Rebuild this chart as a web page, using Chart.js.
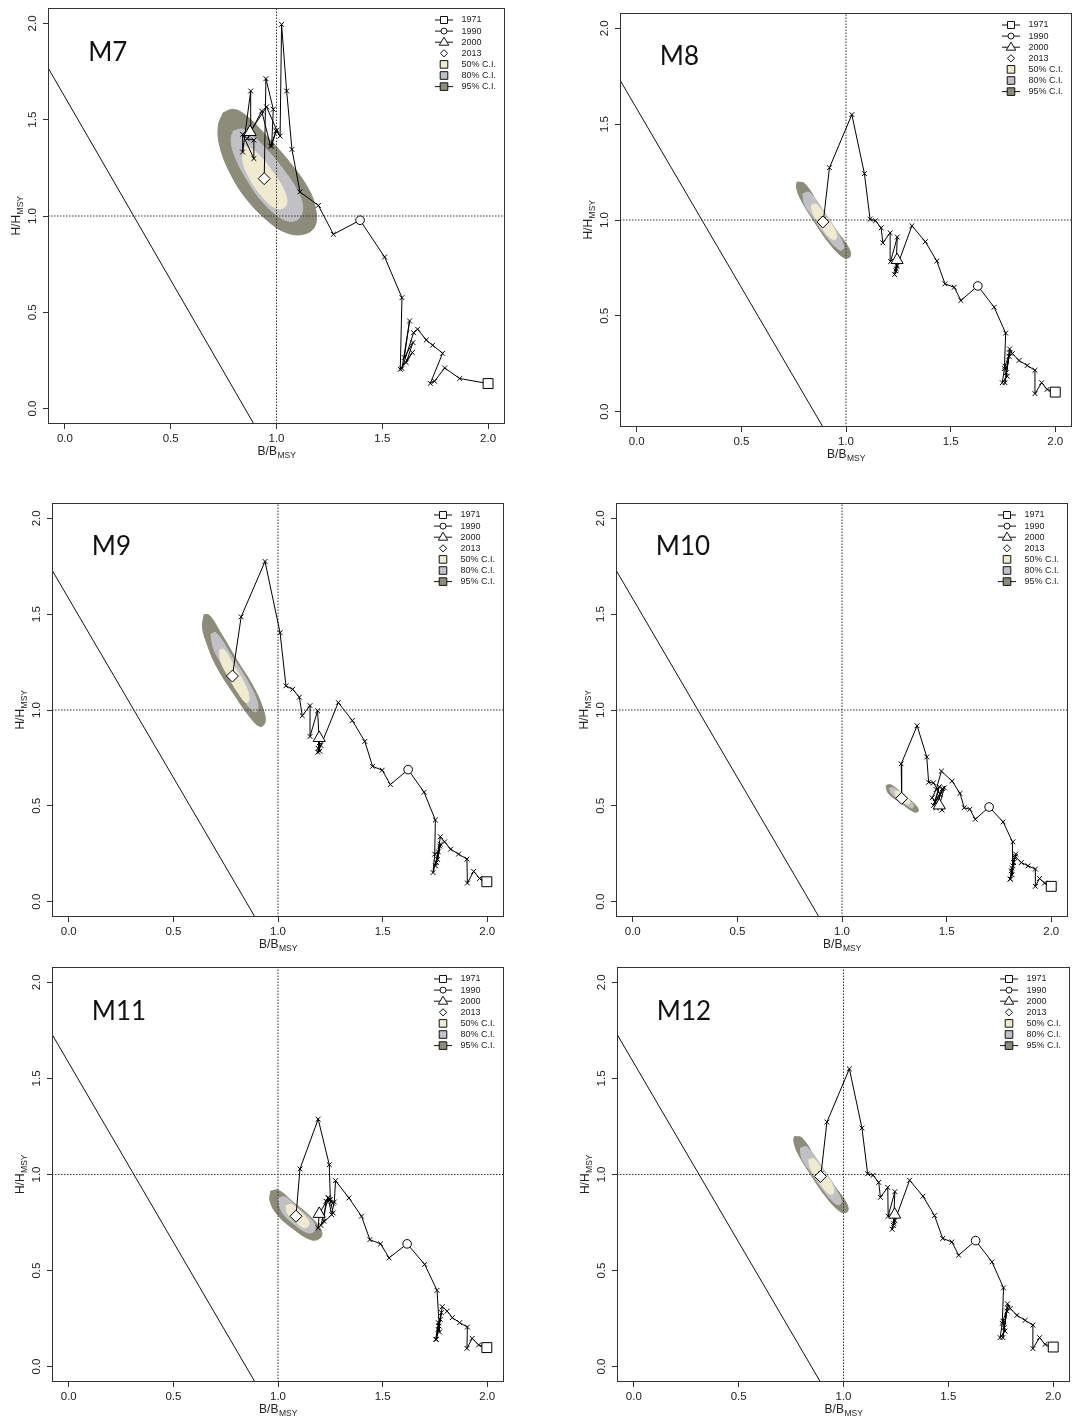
<!DOCTYPE html>
<html>
<head>
<meta charset="utf-8">
<script src="https://cdn.jsdelivr.net/npm/chart.js@4.4.1/dist/chart.umd.min.js"></script>
<style>
  html, body { margin: 0; padding: 0; background: #fff; }
  body { position: relative; width: 1073px; height: 1423px; overflow: hidden; }
  canvas { position: absolute; }
</style>
</head>
<body>
<script>
// Kobe-style trajectories, 1971-2013, six model runs
const years = [1971, 1972, 1973, 1974, 1975, 1976, 1977, 1978, 1979, 1980,
  1981, 1982, 1983, 1984, 1985, 1986, 1987, 1988, 1989, 1990,
  1991, 1992, 1993, 1994, 1995, 1996, 1997, 1998, 1999, 2000,
  2001, 2002, 2003, 2004, 2005, 2006, 2007, 2008, 2009, 2010,
  2011, 2012, 2013];
const xTicks = [0, 0.5, 1, 1.5, 2];
const yTicks = [0, 0.5, 1, 1.5, 2];
const legendLabels = ['1971', '1990', '2000', '2013', '50% C.I.', '80% C.I.', '95% C.I.'];
const panelNames = ['M7', 'M8', 'M9', 'M10', 'M11', 'M12'];

// B/Bmsy and H/Hmsy per year
const m7B = [2.000, 1.866, 1.795, 1.747, 1.727, 1.785, 1.738, 1.708, 1.667, 1.648, 1.593, 1.629, 1.604, 1.645, 1.613, 1.642, 1.585, 1.593, 1.511, 1.395, 1.269, 1.198, 1.111, 1.073, 1.048, 1.024, 1.017, 1.001, 0.953, 0.875, 0.878, 0.840, 0.840, 0.893, 0.893, 0.862, 0.930, 0.972, 0.998, 0.977, 0.985, 0.950, 0.942];
const m7H = [0.130, 0.156, 0.211, 0.142, 0.131, 0.287, 0.329, 0.356, 0.412, 0.394, 0.208, 0.455, 0.265, 0.343, 0.239, 0.291, 0.204, 0.576, 0.787, 0.978, 0.905, 1.055, 1.125, 1.346, 1.649, 1.995, 1.415, 1.446, 1.567, 1.436, 1.649, 1.332, 1.424, 1.298, 1.394, 1.401, 1.545, 1.363, 1.441, 1.363, 1.554, 1.713, 1.194];

const m8B = [2.000, 1.961, 1.935, 1.903, 1.903, 1.866, 1.827, 1.795, 1.782, 1.760, 1.779, 1.766, 1.782, 1.760, 1.770, 1.747, 1.757, 1.763, 1.708, 1.630, 1.549, 1.517, 1.473, 1.434, 1.379, 1.315, 1.245, 1.232, 1.240, 1.244, 1.238, 1.245, 1.213, 1.211, 1.176, 1.168, 1.141, 1.115, 1.088, 1.028, 0.921, 0.893, 0.890];
const m8H = [0.102, 0.116, 0.151, 0.094, 0.216, 0.241, 0.267, 0.303, 0.327, 0.151, 0.289, 0.203, 0.306, 0.237, 0.185, 0.151, 0.225, 0.410, 0.545, 0.656, 0.580, 0.649, 0.667, 0.786, 0.887, 0.970, 0.760, 0.715, 0.745, 0.791, 0.735, 0.911, 0.783, 0.933, 0.881, 0.959, 0.996, 1.004, 1.242, 1.550, 1.273, 1.005, 0.990];

const m9B = [1.998, 1.963, 1.935, 1.905, 1.903, 1.863, 1.825, 1.796, 1.776, 1.757, 1.776, 1.763, 1.773, 1.753, 1.766, 1.741, 1.749, 1.752, 1.698, 1.622, 1.537, 1.498, 1.452, 1.415, 1.355, 1.288, 1.205, 1.190, 1.198, 1.197, 1.192, 1.200, 1.189, 1.153, 1.153, 1.116, 1.102, 1.070, 1.038, 1.010, 0.938, 0.824, 0.782];
const m9H = [0.104, 0.121, 0.158, 0.097, 0.222, 0.248, 0.274, 0.312, 0.339, 0.204, 0.300, 0.220, 0.290, 0.187, 0.260, 0.152, 0.248, 0.426, 0.571, 0.689, 0.611, 0.686, 0.706, 0.836, 0.945, 1.039, 0.815, 0.780, 0.830, 0.854, 0.800, 0.785, 0.996, 0.862, 1.023, 0.970, 1.067, 1.108, 1.126, 1.403, 1.775, 1.486, 1.177];

const m10B = [2.000, 1.968, 1.944, 1.924, 1.924, 1.889, 1.857, 1.828, 1.830, 1.805, 1.820, 1.809, 1.825, 1.812, 1.803, 1.817, 1.813, 1.817, 1.770, 1.703, 1.637, 1.611, 1.584, 1.564, 1.526, 1.475, 1.450, 1.431, 1.478, 1.465, 1.489, 1.437, 1.465, 1.445, 1.480, 1.450, 1.470, 1.437, 1.414, 1.405, 1.359, 1.283, 1.285];
const m10H = [0.080, 0.097, 0.121, 0.080, 0.170, 0.187, 0.204, 0.236, 0.248, 0.118, 0.204, 0.161, 0.230, 0.175, 0.118, 0.187, 0.140, 0.312, 0.416, 0.494, 0.430, 0.482, 0.490, 0.565, 0.629, 0.681, 0.585, 0.542, 0.478, 0.502, 0.594, 0.502, 0.600, 0.520, 0.590, 0.490, 0.560, 0.620, 0.623, 0.755, 0.918, 0.719, 0.539];

const m11B = [1.998, 1.959, 1.928, 1.903, 1.905, 1.868, 1.833, 1.808, 1.785, 1.757, 1.776, 1.765, 1.781, 1.770, 1.754, 1.766, 1.772, 1.760, 1.701, 1.617, 1.531, 1.490, 1.439, 1.399, 1.339, 1.275, 1.269, 1.256, 1.240, 1.197, 1.192, 1.219, 1.229, 1.248, 1.264, 1.205, 1.240, 1.262, 1.250, 1.245, 1.192, 1.105, 1.086];
const m11H = [0.099, 0.113, 0.147, 0.095, 0.206, 0.229, 0.255, 0.289, 0.312, 0.142, 0.246, 0.194, 0.281, 0.211, 0.142, 0.229, 0.180, 0.397, 0.532, 0.639, 0.566, 0.639, 0.661, 0.783, 0.878, 0.968, 0.857, 0.791, 0.878, 0.795, 0.722, 0.757, 0.861, 0.869, 0.800, 0.735, 0.880, 0.850, 0.870, 1.051, 1.288, 1.029, 0.783];

// M12 reads the same as M8 in the figure
const m12B = [2.000, 1.961, 1.935, 1.903, 1.903, 1.866, 1.827, 1.795, 1.782, 1.760, 1.779, 1.766, 1.782, 1.760, 1.770, 1.747, 1.757, 1.763, 1.708, 1.630, 1.549, 1.517, 1.473, 1.434, 1.379, 1.315, 1.245, 1.232, 1.240, 1.244, 1.238, 1.245, 1.213, 1.211, 1.176, 1.168, 1.141, 1.115, 1.088, 1.028, 0.921, 0.893, 0.890];
const m12H = [0.102, 0.116, 0.151, 0.094, 0.216, 0.241, 0.267, 0.303, 0.327, 0.151, 0.289, 0.203, 0.306, 0.237, 0.185, 0.151, 0.225, 0.410, 0.545, 0.656, 0.580, 0.649, 0.667, 0.786, 0.887, 0.970, 0.760, 0.715, 0.745, 0.791, 0.735, 0.911, 0.783, 0.933, 0.881, 0.959, 0.996, 1.004, 1.242, 1.550, 1.273, 1.005, 0.990];

// confidence region outlines for 2013, [B, H] vertices
const m7Ci95 = [[0.748, 1.536], [0.796, 1.554], [0.859, 1.519], [0.953, 1.415], [1.064, 1.277], [1.143, 1.156], [1.182, 1.052], [1.182, 0.948], [1.127, 0.905], [1.048, 0.913], [0.969, 0.965], [0.859, 1.087], [0.780, 1.225], [0.732, 1.363], [0.725, 1.467]];
const m7Ci80 = [[0.796, 1.441], [0.843, 1.450], [0.922, 1.381], [1.032, 1.242], [1.103, 1.121], [1.124, 1.035], [1.096, 0.979], [1.032, 0.983], [0.938, 1.069], [0.859, 1.190], [0.803, 1.311], [0.785, 1.398]];
const m7Ci50 = [[0.851, 1.363], [0.898, 1.337], [0.985, 1.225], [1.040, 1.121], [1.045, 1.055], [1.001, 1.038], [0.930, 1.104], [0.867, 1.208], [0.840, 1.294]];

const m8Ci95 = [[0.766, 1.198], [0.802, 1.190], [0.866, 1.087], [0.953, 0.947], [1.014, 0.852], [1.020, 0.809], [0.988, 0.805], [0.921, 0.878], [0.834, 1.016], [0.782, 1.112], [0.763, 1.172]];
const m8Ci80 = [[0.794, 1.138], [0.826, 1.143], [0.890, 1.051], [0.961, 0.930], [0.990, 0.857], [0.969, 0.843], [0.905, 0.916], [0.842, 1.016], [0.802, 1.082]];
const m8Ci50 = [[0.834, 1.077], [0.858, 1.082], [0.905, 1.016], [0.950, 0.939], [0.950, 0.899], [0.921, 0.909], [0.874, 0.978], [0.842, 1.034]];

const m9Ci95 = [[0.647, 1.498], [0.672, 1.494], [0.723, 1.408], [0.803, 1.261], [0.882, 1.122], [0.930, 1.001], [0.938, 0.935], [0.914, 0.914], [0.866, 0.963], [0.787, 1.087], [0.707, 1.226], [0.660, 1.347], [0.639, 1.434]];
const m9Ci80 = [[0.679, 1.396], [0.704, 1.403], [0.771, 1.295], [0.851, 1.157], [0.901, 1.044], [0.898, 0.992], [0.870, 1.004], [0.803, 1.113], [0.731, 1.240], [0.692, 1.321]];
const m9Ci50 = [[0.720, 1.313], [0.742, 1.316], [0.787, 1.235], [0.843, 1.131], [0.863, 1.056], [0.847, 1.039], [0.811, 1.087], [0.763, 1.174], [0.727, 1.252]];

const m10Ci95 = [[1.210, 0.606], [1.233, 0.610], [1.293, 0.559], [1.353, 0.502], [1.365, 0.473], [1.344, 0.468], [1.285, 0.513], [1.222, 0.565]];
const m10Ci80 = [[1.226, 0.592], [1.245, 0.596], [1.293, 0.554], [1.341, 0.506], [1.334, 0.488], [1.285, 0.525], [1.236, 0.565]];
const m10Ci50 = [[1.253, 0.577], [1.280, 0.571], [1.317, 0.537], [1.322, 0.513], [1.301, 0.513], [1.261, 0.547]];

const m11Ci95 = [[0.965, 0.913], [1.002, 0.918], [1.073, 0.855], [1.161, 0.774], [1.208, 0.705], [1.200, 0.668], [1.156, 0.661], [1.073, 0.717], [0.997, 0.791], [0.962, 0.861]];
const m11Ci80 = [[1.002, 0.878], [1.033, 0.883], [1.105, 0.817], [1.169, 0.752], [1.176, 0.710], [1.145, 0.696], [1.073, 0.745], [1.017, 0.809]];
const m11Ci50 = [[1.038, 0.838], [1.067, 0.843], [1.121, 0.791], [1.149, 0.745], [1.129, 0.722], [1.081, 0.757], [1.045, 0.800]];

const m12Ci95 = m8Ci95, m12Ci80 = m8Ci80, m12Ci50 = m8Ci50;

// straight limit line, two end points [B, H]
const m7Limit = [[-0.08, 1.77], [0.893, -0.08]];
const otherLimit = [[-0.08, 1.73], [0.89, -0.08]];

const panels = [
  { b: m7B, h: m7H, ci: [m7Ci50, m7Ci80, m7Ci95], limit: m7Limit },
  { b: m8B, h: m8H, ci: [m8Ci50, m8Ci80, m8Ci95], limit: otherLimit },
  { b: m9B, h: m9H, ci: [m9Ci50, m9Ci80, m9Ci95], limit: otherLimit },
  { b: m10B, h: m10H, ci: [m10Ci50, m10Ci80, m10Ci95], limit: otherLimit },
  { b: m11B, h: m11H, ci: [m11Ci50, m11Ci80, m11Ci95], limit: otherLimit },
  { b: m12B, h: m12H, ci: [m12Ci50, m12Ci80, m12Ci95], limit: otherLimit }
];

// plot frames on the page: left, top, right, bottom
const panelBoxes = [
  [48, 8, 505, 424], [620, 13, 1072, 427],
  [52, 503, 504, 917], [616, 503, 1068, 917],
  [52, 967, 504, 1382], [617, 967, 1070, 1382]
];

const ciColors = ['#f0ead0', '#c0c0c5', '#8d8b7a'];
const FONT = '"Liberation Sans", Arial, sans-serif';

function shape(ctx, kind, x, y, r) {
  ctx.beginPath();
  if (kind === 'rect') ctx.rect(x - r, y - r, 2 * r, 2 * r);
  else if (kind === 'circle') ctx.arc(x, y, r, 0, Math.PI * 2);
  else if (kind === 'triangle') {
    ctx.moveTo(x, y - r); ctx.lineTo(x + r * 0.95, y + r * 0.6); ctx.lineTo(x - r * 0.95, y + r * 0.6); ctx.closePath();
  } else if (kind === 'rectRot') {
    ctx.moveTo(x, y - r); ctx.lineTo(x + r, y); ctx.lineTo(x, y + r); ctx.lineTo(x - r, y); ctx.closePath();
  }
  ctx.fill(); ctx.stroke();
}

function subText(ctx, main, sub, cx, cy) {
  ctx.font = '12px ' + FONT;
  const w1 = ctx.measureText(main).width;
  ctx.font = '8.5px ' + FONT;
  const w2 = ctx.measureText(sub).width;
  const x0 = cx - (w1 + w2) / 2;
  ctx.textAlign = 'left';
  ctx.textBaseline = 'middle';
  ctx.font = '12px ' + FONT;
  ctx.fillText(main, x0, cy);
  ctx.font = '8.5px ' + FONT;
  ctx.fillText(sub, x0 + w1 + 0.5, cy + 3.5);
}

const legendStyle = [
  { kind: 'rect', r: 3.5, line: true, fill: '#fff' },
  { kind: 'circle', r: 3, line: true, fill: '#fff' },
  { kind: 'triangle', r: 5, line: true, fill: '#fff' },
  { kind: 'rectRot', r: 3.6, line: false, fill: '#fff' },
  { kind: 'rect', r: 3.8, line: false, fill: ciColors[0] },
  { kind: 'rect', r: 3.8, line: false, fill: ciColors[1] },
  { kind: 'rect', r: 3.8, line: true, fill: ciColors[2] }
];

const decor = {
  id: 'decor',
  afterDraw(chart, args, opts) {
    const { ctx, chartArea: a, scales: { x, y } } = chart;
    ctx.save();
    ctx.strokeStyle = '#333';
    ctx.lineWidth = 1;
    ctx.strokeRect(a.left + 0.5, a.top + 0.5, a.right - a.left - 1, a.bottom - a.top - 1);

    ctx.fillStyle = '#222';
    subText(ctx, 'B/B', 'MSY', (a.left + a.right) / 2, a.bottom + 28);
    ctx.save();
    ctx.translate(a.left - 31, (a.top + a.bottom) / 2);
    ctx.rotate(-Math.PI / 2);
    subText(ctx, 'H/H', 'MSY', 0, 0);
    ctx.restore();

    ctx.fillStyle = '#111';
    ctx.font = '26px Lato, "Open Sans", sans-serif';
    ctx.textAlign = 'left';
    ctx.textBaseline = 'middle';
    ctx.fillText(opts.name, x.getPixelForValue(0.11), y.getPixelForValue(1.85));

    const cx = a.right - 61, tx = a.right - 43.5, y0 = a.top + 12;
    ctx.font = '9px ' + FONT;
    ctx.lineWidth = 1;
    legendLabels.forEach((lab, i) => {
      const ly = y0 + i * 11.1;
      const st = legendStyle[i];
      ctx.strokeStyle = '#111';
      if (st.line) {
        ctx.beginPath(); ctx.moveTo(cx - 9, ly); ctx.lineTo(cx + 9, ly); ctx.stroke();
      }
      ctx.fillStyle = st.fill;
      shape(ctx, st.kind, cx, ly, st.r);
      ctx.fillStyle = '#222';
      ctx.fillText(lab, tx, ly);
    });
    ctx.restore();
  }
};

function marker(pt, style, r) {
  return {
    data: [pt], pointStyle: style, pointRadius: r, pointBackgroundColor: '#fff',
    pointBorderColor: '#000', pointBorderWidth: 1, order: 1
  };
}

panels.forEach((p, k) => {
  const [L, T, R, B] = panelBoxes[k];
  const padL = 52, padT = 14, padR = 10, padB = 56;
  const cv = document.createElement('canvas');
  cv.width = R - L + padL + padR;
  cv.height = B - T + padT + padB;
  cv.style.left = (L - padL) + 'px';
  cv.style.top = (T - padT) + 'px';
  document.body.appendChild(cv);

  const path = p.b.map((v, i) => ({ x: v, y: p.h[i] }));
  const at = yr => path[years.indexOf(yr)];
  const poly = arr => arr.concat([arr[0]]).map(([bx, hy]) => ({ x: bx, y: hy }));

  const datasets = [
    marker(at(1971), 'rect', 7),
    marker(at(1990), 'circle', 4.3),
    marker(at(2000), 'triangle', 7),
    marker(at(2013), 'rectRot', 6),
    {
      data: path, showLine: true, borderColor: '#000', borderWidth: 1, tension: 0,
      pointStyle: 'crossRot', pointRadius: 3.4, pointBorderColor: '#000', pointBorderWidth: 1, order: 2
    },
    {
      data: [{ x: 1, y: -0.08 }, { x: 1, y: 2.08 }], showLine: true, borderColor: '#333',
      borderWidth: 1, borderDash: [1.5, 1.5], pointRadius: 0, order: 3
    },
    {
      data: [{ x: -0.08, y: 1 }, { x: 2.08, y: 1 }], showLine: true, borderColor: '#333',
      borderWidth: 1, borderDash: [1.5, 1.5], pointRadius: 0, order: 3
    },
    {
      data: p.limit.map(([bx, hy]) => ({ x: bx, y: hy })), showLine: true, borderColor: '#111',
      borderWidth: 1, pointRadius: 0, order: 3
    }
  ];
  p.ci.forEach((c, j) => {
    datasets.push({
      data: poly(c), showLine: true, fill: 'shape', tension: 0.4,
      backgroundColor: ciColors[j], borderColor: ciColors[j], borderWidth: 1,
      pointRadius: 0, order: 4 + j
    });
  });

  new Chart(cv, {
    type: 'scatter',
    data: { datasets },
    options: {
      responsive: false,
      animation: false,
      devicePixelRatio: 1,
      events: [],
      layout: { padding: { top: padT, right: padR, left: 0, bottom: 0 } },
      scales: {
        x: {
          type: 'linear', min: -0.08, max: 2.08,
          afterBuildTicks: s => { s.ticks = xTicks.map(v => ({ value: v })); },
          afterFit: s => { s.height = padB; },
          grid: { drawOnChartArea: false, drawTicks: true, tickLength: 5, color: '#333' },
          border: { display: false },
          ticks: {
            padding: 3, color: '#222', maxRotation: 0, autoSkip: false,
            font: { family: FONT, size: 11.5 }, callback: v => v.toFixed(1)
          }
        },
        y: {
          type: 'linear', min: -0.08, max: 2.08,
          afterBuildTicks: s => { s.ticks = yTicks.map(v => ({ value: v })); },
          afterFit: s => { s.width = padL; },
          grid: { drawOnChartArea: false, drawTicks: true, tickLength: 5, color: '#333' },
          border: { display: false },
          ticks: {
            padding: 2, color: '#222', minRotation: 90, maxRotation: 90, crossAlign: 'center',
            autoSkip: false, font: { family: FONT, size: 11.5 }, callback: v => v.toFixed(1)
          }
        }
      },
      plugins: {
        legend: { display: false },
        tooltip: { enabled: false },
        decor: { name: panelNames[k] }
      }
    },
    plugins: [decor]
  });
});
</script>
</body>
</html>
